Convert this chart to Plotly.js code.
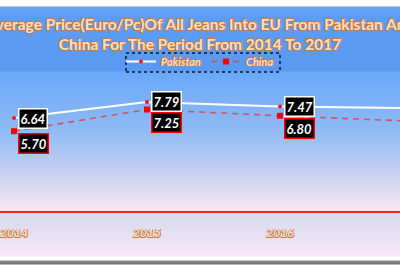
<!DOCTYPE html>
<html>
<head>
<meta charset="utf-8">
<script src="https://cdn.plot.ly/plotly-3.0.1.min.js"></script>
<style>
  html, body { margin: 0; padding: 0; width: 400px; height: 266px; overflow: hidden; background: #ffffff; }
  #bg {
    position: absolute; left: 0; top: 0; width: 400px; height: 266px;
    background: linear-gradient(to bottom,
      #ffffff 0px, #ffffff 6px, #c8c8c8 6px, #c8c8c8 7px,
      #6aa6f6 7px, #5c9cf5 18px, #5a99f2 71px,
      #6aa8f8 72px, #8fbaf5 130px, #d6d8f0 185px, #fbe6f6 210px,
      #d8d9ef 212px, #e6e0f2 235px, #f9e6f6 256px,
      #ffffff 257px, #ffffff 260px, #8c8c8c 261px, #707070 264px, #ffffff 265px);
  }
  #chart { position: absolute; left: 0; top: 0; width: 400px; height: 266px; }
</style>
</head>
<body>
<div id="bg"></div>
<div id="chart"></div>
<script>
const years = [2014, 2015, 2016, 2017];
const yearLabels = ['2014', '2015', '2016', '2017'];
const pakistan = [6.64, 7.79, 7.47, 7.35];
const china = [5.70, 7.25, 6.80, 6.41];
const seriesNames = ['Pakistan', 'China'];
const titleText = 'Average Price(Euro/Pc)Of All Jeans Into EU From Pakistan And<br>China For The Period From 2014 To 2017';

const peach = '#fde0c4';
const oc = '#c27a48';
const outline = `0.7px 0.7px 0 ${oc}, -0.7px -0.7px 0 ${oc}, 0.7px -0.7px 0 ${oc}, -0.7px 0.7px 0 ${oc}`;
const fontFam = 'Lato, "Open Sans", sans-serif';

const traces = [
  {
    x: years, y: pakistan, name: seriesNames[0], type: 'scatter', mode: 'lines+markers',
    line: { color: '#ffffff', width: 2 },
    marker: { color: '#ff1010', size: 4, symbol: 'circle' },
    cliponaxis: true
  },
  {
    x: years, y: china, name: seriesNames[1], type: 'scatter', mode: 'lines+markers',
    line: { color: 'rgba(215,70,70,0.85)', width: 1.6, dash: '6px,5px' },
    marker: { color: '#ff0000', size: 6, symbol: 'square' },
    cliponaxis: true
  }
];

const annotations = [];
years.forEach((yr, i) => {
  annotations.push({
    x: yr, y: pakistan[i], xref: 'x', yref: 'y', showarrow: false,
    text: pakistan[i].toFixed(2), xanchor: 'left', yanchor: 'middle', xshift: 4,
    font: { family: fontFam, size: 13, color: '#ffffff', weight: 'bold', style: 'italic' },
    bgcolor: '#000000', bordercolor: '#ffffff', borderwidth: 1.5, borderpad: 1
  });
  annotations.push({
    x: yr, y: china[i], xref: 'x', yref: 'y', showarrow: false,
    text: china[i].toFixed(2), xanchor: 'left', yanchor: 'top', xshift: 4, yshift: -2,
    font: { family: fontFam, size: 13, color: '#ffffff', weight: 'bold', style: 'italic' },
    bgcolor: '#000000', bordercolor: '#ff0000', borderwidth: 1.5, borderpad: 1
  });
});

const layout = {
  width: 400, height: 266,
  margin: { l: 0, r: 0, t: 71, b: 55, pad: 0 },
  paper_bgcolor: 'rgba(0,0,0,0)',
  plot_bgcolor: 'rgba(0,0,0,0)',
  showlegend: true,
  title: {
    text: titleText, x: 0.5, xanchor: 'center', y: 1 - 30 / 266, yanchor: 'top', yref: 'container',
    font: { family: fontFam, size: 15.5, color: peach, weight: 'bold', shadow: outline }
  },
  legend: {
    orientation: 'h', x: 0.5, xanchor: 'center', y: 1 + 24 / 140, yanchor: 'top',
    bgcolor: 'rgba(0,0,0,0)', borderwidth: 0, itemwidth: 30,
    font: { family: fontFam, size: 11, color: peach, weight: 'bold', style: 'italic', shadow: outline }
  },
  xaxis: {
    type: 'linear', range: [2014 - 14 / 133, 2014 + 386 / 133],
    tickvals: years, ticktext: yearLabels,
    showgrid: false, zeroline: false, showline: true, linecolor: '#ff2020', linewidth: 2,
    ticks: '', ticklabelstandoff: 10,
    tickfont: { family: fontFam, size: 12, color: peach, weight: 'bold', style: 'italic', shadow: outline }
  },
  yaxis: {
    range: [0, 10], visible: false, showgrid: false, zeroline: false, fixedrange: true
  },
  shapes: [
    { type: 'rect', xref: 'paper', yref: 'paper', x0: 126 / 400, x1: 280 / 400,
      y0: 1 + (71 - 72) / 140, y1: 1 + (71 - 53) / 140,
      line: { color: '#101828', width: 1.5, dash: 'dot' }, fillcolor: 'rgba(0,0,0,0)', layer: 'above' }
  ],
  annotations: annotations
};

Plotly.newPlot('chart', traces, layout, { displayModeBar: false, staticPlot: true });
</script>
</body>
</html>
